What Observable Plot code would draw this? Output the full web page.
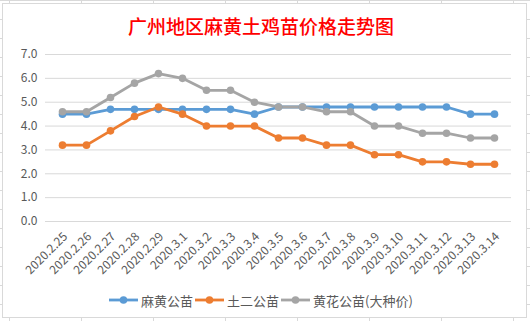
<!DOCTYPE html>
<html>
<head>
<meta charset="utf-8">
<script src="https://cdn.jsdelivr.net/npm/d3@7"></script>
<script src="https://cdn.jsdelivr.net/npm/@observablehq/plot@0.6"></script>
<style>
  html, body { margin: 0; padding: 0; }
  body {
    width: 530px; height: 321px; position: relative; overflow: hidden;
    background-color: #fff;
    background-image:
      repeating-linear-gradient(to right, transparent 0, transparent 9px, #d9d9d9 9px, #d9d9d9 10px, transparent 10px, transparent 72px),
      repeating-linear-gradient(to bottom, #d9d9d9 0, #d9d9d9 1px, transparent 1px, transparent 19px);
    font-family: "Noto Sans CJK SC", "Noto Sans", sans-serif;
  }
  #box {
    position: absolute; left: 2px; top: 3px; width: 523px; height: 313px;
    border: 1px solid #d9d9d9; background: #fff;
  }
  #title {
    position: absolute; left: 0; top: 12px; width: 522px; text-align: center;
    color: #ff0000; font-size: 19px; font-weight: 500;
    font-family: "Noto Sans CJK SC", serif;
  }
  #chart { position: absolute; left: 0; top: 44px; }
  #legend {
    position: absolute; left: 0; top: 289px; width: 522px; text-align: center;
    font-size: 13px; color: #595959; white-space: nowrap;
  }
  .item { display: inline-block; margin: 0 1px; }
  .item svg { vertical-align: middle; margin-right: 3px; }
  .item span { vertical-align: middle; }
</style>
</head>
<body>
<div id="box"></div>
<div id="title"></div>
<div id="chart"></div>
<div id="legend"></div>
<script>
const titleText = "广州地区麻黄土鸡苗价格走势图";
const dates = ["2020.2.25","2020.2.26","2020.2.27","2020.2.28","2020.2.29","2020.3.1","2020.3.2","2020.3.3","2020.3.4","2020.3.5","2020.3.6","2020.3.7","2020.3.8","2020.3.9","2020.3.10","2020.3.11","2020.3.12","2020.3.13","2020.3.14"];
const seriesNames = ["麻黄公苗", "土二公苗", "黄花公苗(大种价)"];
const mahuang = [4.5,4.5,4.7,4.7,4.7,4.7,4.7,4.7,4.5,4.8,4.8,4.8,4.8,4.8,4.8,4.8,4.8,4.5,4.5];
const tuer    = [3.2,3.2,3.8,4.4,4.8,4.5,4.0,4.0,4.0,3.5,3.5,3.2,3.2,2.8,2.8,2.5,2.5,2.4,2.4];
const huanghua= [4.6,4.6,5.2,5.8,6.2,6.0,5.5,5.5,5.0,4.8,4.8,4.6,4.6,4.0,4.0,3.7,3.7,3.5,3.5];
const yTicks = [0,1,2,3,4,5,6,7];
const colors = ["#5B9BD5", "#ED7D31", "#A5A5A5"];

document.getElementById("title").textContent = titleText;

const allSeries = [mahuang, tuer, huanghua];
const data = [];
allSeries.forEach((vals, si) => vals.forEach((v, i) => data.push({date: dates[i], value: v, series: seriesNames[si]})));

const plot = Plot.plot({
  width: 530,
  height: 236,
  marginLeft: 45,
  marginRight: 19,
  marginTop: 10,
  marginBottom: 59,
  style: {fontFamily: "'Noto Sans CJK SC', 'Noto Sans', sans-serif", fontSize: "11px", color: "#595959", background: "transparent"},
  x: {type: "point", domain: dates, padding: 0.5},
  y: {domain: [0, 7]},
  color: {domain: seriesNames, range: colors},
  marks: [
    Plot.ruleY(yTicks, {stroke: "#d9d9d9", strokeWidth: 1}),
    Plot.axisY({ticks: yTicks, tickFormat: d3.format(".1f"), tickSize: 0, tickPadding: 8, fontSize: 12, label: null}),
    Plot.axisX({tickRotate: -45, tickSize: 0, tickPadding: 13, dx: 3, fontSize: 12, label: null}),
    Plot.line(data, {x: "date", y: "value", z: "series", stroke: "series", strokeWidth: 2.8}),
    Plot.dot(data, {x: "date", y: "value", fill: "series", r: 3.8})
  ]
});
document.getElementById("chart").appendChild(plot);

const legend = document.getElementById("legend");
seriesNames.forEach((name, i) => {
  const item = document.createElement("span");
  item.className = "item";
  item.innerHTML = `<svg width="29" height="10"><line x1="0" y1="5" x2="29" y2="5" stroke="${colors[i]}" stroke-width="2.8"/><circle cx="14.5" cy="5" r="3.8" fill="${colors[i]}"/></svg><span></span>`;
  item.querySelector("span").textContent = name;
  legend.appendChild(item);
});
</script>
</body>
</html>
